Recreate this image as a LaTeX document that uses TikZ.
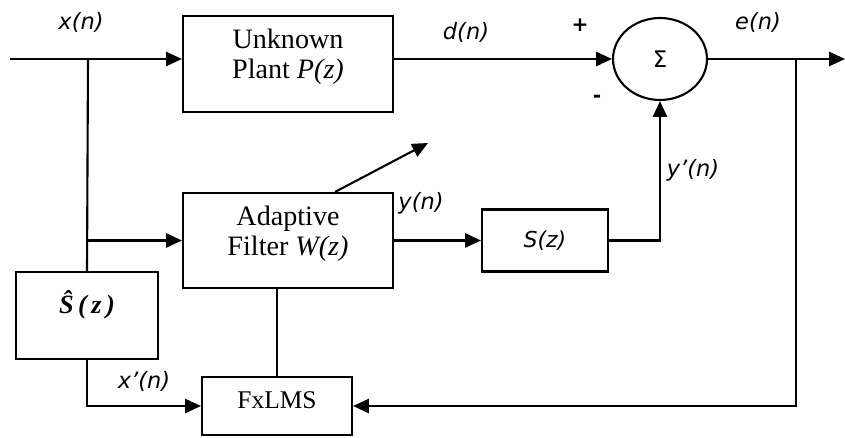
\documentclass[tikz,border=0pt]{standalone}
\usepackage{fontspec}
\setmainfont{Liberation Serif}
\newfontfamily\lblfont{DejaVu Sans}
\usetikzlibrary{arrows.meta,shapes.geometric}
\tikzset{
  blk/.style={draw, line width=1.2pt, align=center, inner sep=2pt, font=\fontsize{16}{17}\selectfont},
  sumnode/.style={draw, ellipse, line width=1.2pt, minimum width=1.88cm, minimum height=1.64cm, inner sep=0pt, font=\lblfont\fontsize{13}{15}\selectfont},
  ar/.style={-{Triangle[length=9pt,width=8pt]}, line width=1.2pt},
  ln/.style={line width=1.2pt},
  lbl/.style={font=\lblfont\itshape\fontsize{12.8}{14}\selectfont, inner sep=0pt},
  sgn/.style={font=\lblfont\bfseries\fontsize{11.5}{13}\selectfont, inner sep=0pt},
}
\begin{document}
\begin{tikzpicture}[x=0.02cm, y=-0.02cm]
    \useasboundingbox (0,0) rectangle (845,438);
    \node[blk, minimum width=4.2cm, minimum height=1.92cm, text depth=0.4cm] (plant) at (288,64) {Unknown\\Plant \textit{P(z)}};
    \node[blk, minimum width=4.2cm, minimum height=1.9cm, text depth=0.4cm] (filt) at (288,240.5) {Adaptive\\Filter \textit{W(z)}};
    \node[blk, minimum width=2.52cm, minimum height=1.24cm, font=\lblfont\itshape\fontsize{12.5}{14}\selectfont] (sz) at (545,240.5) {S(z)};
    \node[blk, minimum width=2.84cm, minimum height=1.74cm, text depth=0.55cm, font=\fontsize{15}{17}\selectfont] (shat) at (87,315.5) {\bfseries\itshape \^{S}\,(\,z\,)};
    \node[blk, minimum width=3.0cm, minimum height=1.16cm, text depth=0.24cm, font=\fontsize{14.5}{17}\selectfont] (fxlms) at (277,406) {FxLMS};
    \node[sumnode] (sum) at (660,59) {Σ};

    \coordinate (in) at (10,59);
    \coordinate (xtap) at (88,59);
    \coordinate (out) at (845,59);
    \coordinate (etap) at (796,59);
    \coordinate (adj) at (428,143);

    \draw[ar] (in) -- (in -| plant.west);
    \draw[ln] (xtap) -- (shat.north);
    \draw[ar] (xtap |- filt.west) -- (filt.west);
    \draw[ar] (plant.east |- sum.west) -- (sum.west);
    \draw[ar] (sum.east) -- (out);
    \draw[ar] (etap) |- (fxlms.east);
    \draw[ar] (shat.south) |- (fxlms.west);
    \draw[ar] (filt.east) -- (sz.west);
    \draw[ar] (sz.east) -| (sum.south);
    \draw[ln] (filt.south -| fxlms.north) -- (fxlms.north);
    \draw[ar] ([xshift=0.94cm]filt.north) -- (adj);

    \node[lbl] (xlab) at (81,22) {x(n)};
    \node[lbl] (dlab) at (466,32) {d(n)};
    \node[lbl] (elab) at (758,22) {e(n)};
    \node[lbl] (ylab) at (421,203) {y(n)};
    \node[lbl] (yplab) at (693,170) {y’(n)};
    \node[lbl] (xplab) at (144,381) {x’(n)};
    \node[sgn] (plus) at (580,25) {+};
    \node[sgn] (minus) at (597,99) {-};
\end{tikzpicture}
\end{document}
